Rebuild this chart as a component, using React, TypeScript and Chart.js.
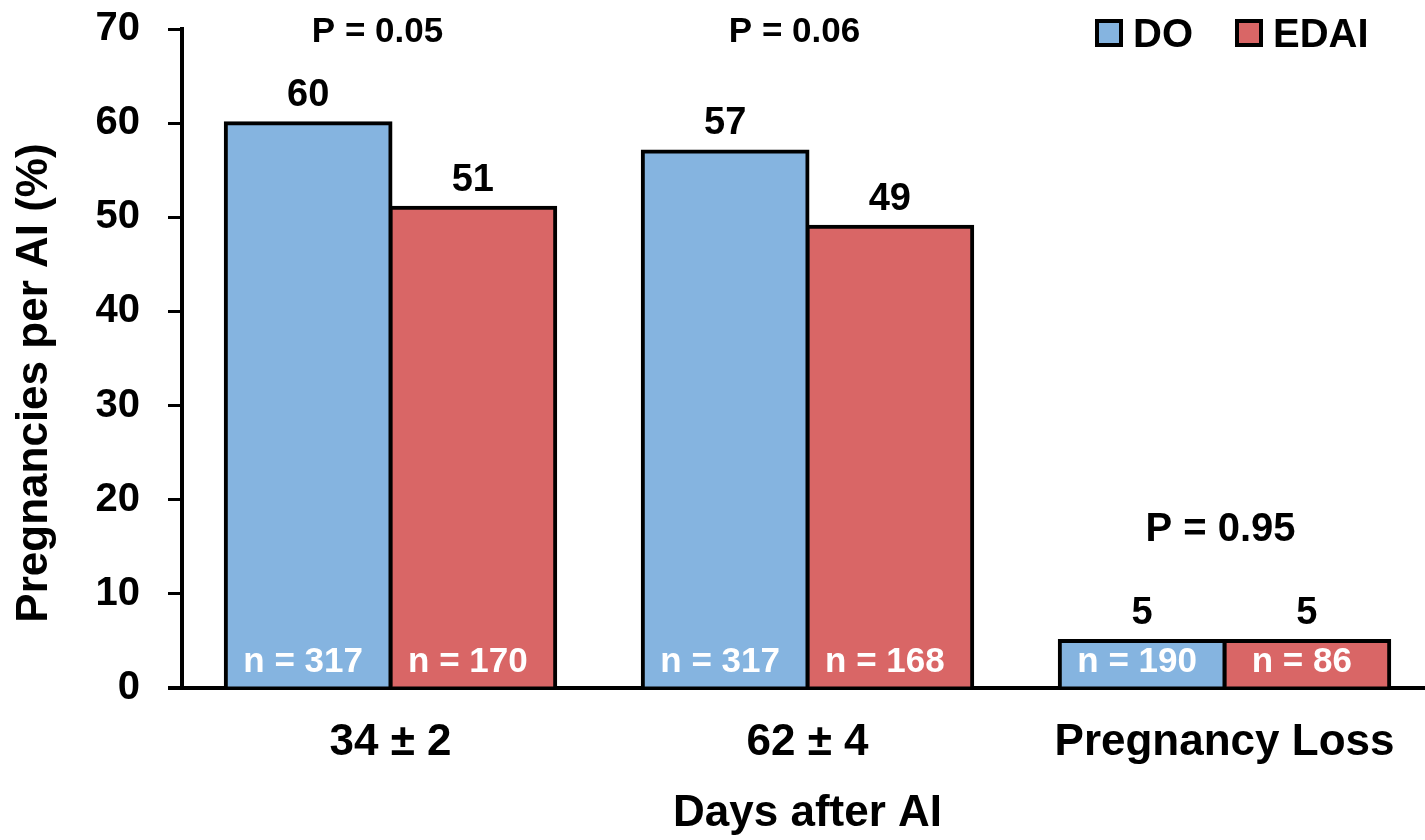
import React, { useEffect, useRef } from "react";
import { Chart, registerables } from "chart.js";

Chart.register(...registerables);

const categories = ["34 ± 2", "62 ± 4", "Pregnancy Loss"];
const seriesNames = ["DO", "EDAI"];
const doValues = [60, 57, 5];
const edaiValues = [51, 49, 5];
const doCounts = ["n = 317", "n = 317", "n = 190"];
const edaiCounts = ["n = 170", "n = 168", "n = 86"];
const pLabels = ["P = 0.05", "P = 0.06", "P = 0.95"];
const yTicks = [0, 10, 20, 30, 40, 50, 60, 70];

const BLUE = "rgb(133,180,224)";
const RED = "rgb(217,102,102)";
const FONT = '"Liberation Sans", Arial, sans-serif';

// annotation placement (not data)
const pLevels = [68.6, 68.6, 15.6];
const pOffsetX = [-13, -13, -4];
const pFontSize = [35, 35, 40];

export default function App() {
  const ref = useRef<HTMLCanvasElement | null>(null);

  useEffect(() => {
    document.documentElement.style.overflow = "hidden";
    document.body.style.overflow = "hidden";
    const canvas = ref.current;
    if (!canvas) return;
    const counts = [doCounts, edaiCounts];

    const annot = {
      id: "annot",
      afterDatasetsDraw(chart: any) {
        const ctx = chart.ctx;
        const xs = chart.scales.x;
        const ys = chart.scales.y;
        const ca = chart.chartArea;
        ctx.save();
        ctx.strokeStyle = "#000";
        ctx.lineWidth = 4;
        ctx.beginPath();
        ctx.moveTo(ca.left - 14, ca.bottom);
        ctx.lineTo(ca.left, ca.bottom);
        ctx.stroke();

        chart.data.datasets.forEach((ds: any, di: number) => {
          const meta = chart.getDatasetMeta(di);
          meta.data.forEach((bar: any, i: number) => {
            const { x, y, base } = bar.getProps(["x", "y", "base"], true);
            ctx.textAlign = "center";
            ctx.textBaseline = "alphabetic";
            ctx.fillStyle = "#000";
            ctx.font = `bold 38px ${FONT}`;
            ctx.fillText(String(ds.data[i]), x, y - 17);
            ctx.fillStyle = "#fff";
            ctx.font = `bold 35px ${FONT}`;
            ctx.fillText(counts[di][i], x - 5, base - 15);
          });
        });

        ctx.fillStyle = "#000";
        ctx.textAlign = "center";
        ctx.textBaseline = "alphabetic";
        pLabels.forEach((t, i) => {
          ctx.font = `bold ${pFontSize[i]}px ${FONT}`;
          ctx.fillText(t, xs.getPixelForValue(i) + pOffsetX[i], ys.getPixelForValue(pLevels[i]));
        });

        ctx.save();
        ctx.translate(35, 383);
        ctx.rotate(-Math.PI / 2);
        ctx.font = `bold 44px ${FONT}`;
        ctx.textBaseline = "middle";
        ctx.fillText("Pregnancies per AI (%)", 0, 0);
        ctx.restore();

        const items = [
          { x: 1095, color: BLUE, label: seriesNames[0] },
          { x: 1235, color: RED, label: seriesNames[1] },
        ];
        items.forEach((it) => {
          ctx.fillStyle = "#000";
          ctx.fillRect(it.x, 19, 28, 28);
          ctx.fillStyle = it.color;
          ctx.fillRect(it.x + 4, 23, 20, 20);
          ctx.fillStyle = "#000";
          ctx.font = `bold 40px ${FONT}`;
          ctx.textAlign = "left";
          ctx.textBaseline = "alphabetic";
          ctx.fillText(it.label, it.x + 38, 47);
        });
        ctx.restore();
      },
    };

    const chart = new Chart(canvas, {
      type: "bar",
      data: {
        labels: categories,
        datasets: [
          {
            label: seriesNames[0],
            data: doValues,
            backgroundColor: BLUE,
            borderColor: "#000",
            borderWidth: 4,
            inflateAmount: 2,
            barPercentage: 1,
            categoryPercentage: 0.79,
          } as any,
          {
            label: seriesNames[1],
            data: edaiValues,
            backgroundColor: RED,
            borderColor: "#000",
            borderWidth: 4,
            inflateAmount: 2,
            barPercentage: 1,
            categoryPercentage: 0.79,
          } as any,
        ],
      },
      options: {
        animation: false,
        responsive: false,
        devicePixelRatio: 1,
        layout: { padding: { top: 29, right: 7, left: 0, bottom: 0 } },
        plugins: { legend: { display: false }, tooltip: { enabled: false } },
        scales: {
          x: {
            grid: { display: false, drawTicks: false },
            border: { display: true, color: "#000", width: 4 },
            ticks: { color: "#000", font: { family: FONT, size: 44, weight: "bold" }, padding: 28 },
            title: {
              display: true,
              text: "Days after AI",
              color: "#000",
              font: { family: FONT, size: 44, weight: "bold" },
              padding: { top: 0, bottom: 0 },
            },
            afterFit(scale: any) {
              scale.height = 152;
              scale.paddingLeft = 0;
              scale.paddingRight = 0;
            },
          },
          y: {
            min: 0,
            max: 70,
            afterBuildTicks(scale: any) {
              scale.ticks = yTicks.map((v) => ({ value: v }));
            },
            grid: {
              display: true,
              drawOnChartArea: false,
              drawTicks: true,
              tickLength: 14,
              color: "#000",
              lineWidth: 3,
            },
            border: { display: true, color: "#000", width: 4 },
            ticks: { color: "#000", font: { family: FONT, size: 40, weight: "bold" }, padding: 28 },
            afterFit(scale: any) {
              scale.width = 182;
              scale.paddingTop = 0;
              scale.paddingBottom = 0;
            },
          },
        },
      },
      plugins: [annot],
    });
    return () => chart.destroy();
  }, []);

  return (
    <div style={{ position: "fixed", left: 0, top: 0, width: 1440, height: 840, overflow: "hidden", background: "#fff" }}>
      <canvas ref={ref} width={1440} height={840} />
    </div>
  );
}
